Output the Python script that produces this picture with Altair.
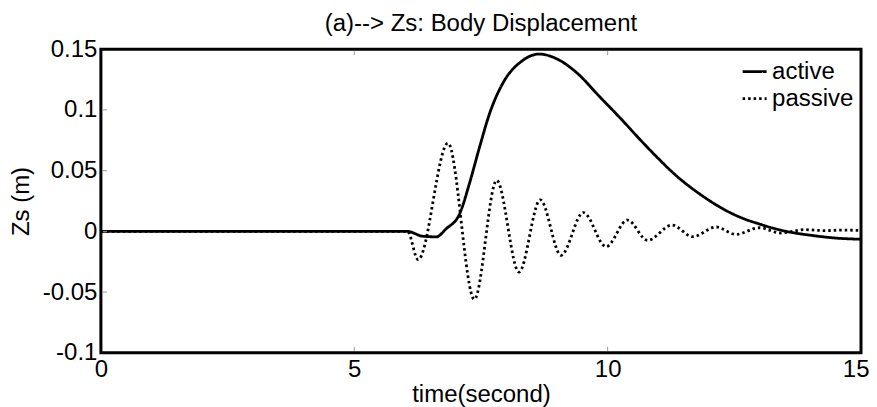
import altair as alt
import pandas as pd

# ---- data ----
active_t = [0, 6.05, 6.35, 6.62, 6.81, 7.08, 7.27, 7.47, 7.67, 7.96, 8.30, 8.65, 9.00, 9.38,
            9.84, 10.30, 10.63, 11.00, 11.35, 11.81, 12.30, 12.65, 13.00, 13.32,
            13.65, 13.97, 14.50, 15.00]
active_z = [0, 0, -0.004, -0.0045, 0.002, 0.0145, 0.039, 0.069, 0.097, 0.124, 0.140, 0.146,
            0.142, 0.131, 0.111, 0.091, 0.076, 0.060, 0.046, 0.031, 0.018, 0.011,
            0.006, 0.002, -0.001, -0.003, -0.0055, -0.0065]

passive_t = [0, 6.05, 6.26, 6.85, 7.37, 7.81, 8.25, 8.67, 9.08, 9.52, 9.97, 10.39, 10.79,
             11.27, 11.68, 12.14, 12.53, 12.99, 13.42, 13.88, 14.30, 14.60, 15.00]
passive_z = [0, 0, -0.0233, 0.0726, -0.056, 0.042, -0.0335, 0.026, -0.0197, 0.0155, -0.0126,
             0.0093, -0.0074, 0.0052, -0.0044, 0.0036, -0.0025, 0.003, -0.0014, 0.0014,
             0.0006, 0.001, 0.0008]

series_names = ["active", "passive"]
x_ticks = [0, 5, 10, 15]
y_ticks = [-0.1, -0.05, 0, 0.05, 0.1, 0.15]
inner_x_ticks = [5, 10]
inner_y_ticks = [-0.05, 0, 0.05, 0.1]

df = pd.concat([
    pd.DataFrame({"t": active_t, "z": active_z, "series": series_names[0]}),
    pd.DataFrame({"t": passive_t, "z": passive_z, "series": series_names[1]}),
], ignore_index=True)

FONT = "Liberation Sans"
W, H = 761, 304

x_scale = alt.Scale(domain=[0, 15], nice=False, zero=False)
y_scale = alt.Scale(domain=[-0.1, 0.15], nice=False, zero=False)

x_axis = alt.Axis(
    values=x_ticks, title="time(second)", labelExpr="toString(datum.value)",
    ticks=False, tickSize=0, domain=False, grid=False, labelFlush=False,
    labelAlign={"condition": {"test": "datum.value == 15", "value": "right"}, "value": "center"},
    labelOffset={"condition": {"test": "datum.value == 15", "value": 8}, "value": 0},
    labelFont=FONT, labelFontSize=24, labelColor="black", labelPadding=5,
    titleFont=FONT, titleFontSize=24, titleFontWeight="normal", titleColor="black",
    titleBaseline="alphabetic", titleY=49)
y_axis = alt.Axis(
    values=y_ticks, title="Zs (m)", labelExpr="toString(datum.value)",
    ticks=False, tickSize=0, domain=False, grid=False, labelFlush=False,
    labelFont=FONT, labelFontSize=24, labelColor="black", labelPadding=4,
    titleFont=FONT, titleFontSize=24, titleFontWeight="normal", titleColor="black",
    titleBaseline="alphabetic", titleAngle=270, titleX=-72, titleY=152)

lines = alt.Chart(df).mark_line(
    interpolate="monotone", color="black", strokeWidth=2.8, clip=True, strokeCap="butt"
).encode(
    x=alt.X("t:Q", scale=x_scale, axis=x_axis),
    y=alt.Y("z:Q", scale=y_scale, axis=y_axis),
    strokeDash=alt.StrokeDash("series:N",
        scale=alt.Scale(domain=series_names, range=[[1, 0], [2.5, 3]]),
        legend=alt.Legend(title=None, orient="none", legendX=641, legendY=9,
                          symbolType="stroke", symbolSize=576, symbolStrokeWidth=2.8,
                          symbolStrokeColor="black", labelFont=FONT, labelFontSize=24,
                          labelColor="black", labelOffset=4, rowPadding=1, padding=0)),
)

top_ticks = alt.Chart(pd.DataFrame({"t": inner_x_ticks})).mark_rule(
    color="#999", strokeWidth=1).encode(
    x=alt.X("t:Q", scale=x_scale, axis=x_axis), y=alt.value(2), y2=alt.value(6))
bottom_ticks = alt.Chart(pd.DataFrame({"t": inner_x_ticks})).mark_rule(
    color="#999", strokeWidth=1).encode(
    x=alt.X("t:Q", scale=x_scale, axis=x_axis), y=alt.value(H - 6), y2=alt.value(H - 2))
left_ticks = alt.Chart(pd.DataFrame({"z": inner_y_ticks})).mark_rule(
    color="#999", strokeWidth=1).encode(
    y=alt.Y("z:Q", scale=y_scale, axis=y_axis), x=alt.value(2), x2=alt.value(6))

chart = alt.layer(lines, top_ticks, bottom_ticks, left_ticks).properties(
    width=W, height=H,
    background="white",
    title=alt.TitleParams("(a)--> Zs: Body Displacement", font=FONT, fontSize=24,
                          fontWeight="normal", color="black",
                          offset=1, anchor="middle", frame="group"),
    autosize=alt.AutoSizeParams(type="none"),
    padding={"left": 93, "top": 41, "right": 8, "bottom": 54},
).configure_view(stroke="black", strokeWidth=3)

chart.save("out.html", embed_options={"renderer": "svg", "actions": False})
